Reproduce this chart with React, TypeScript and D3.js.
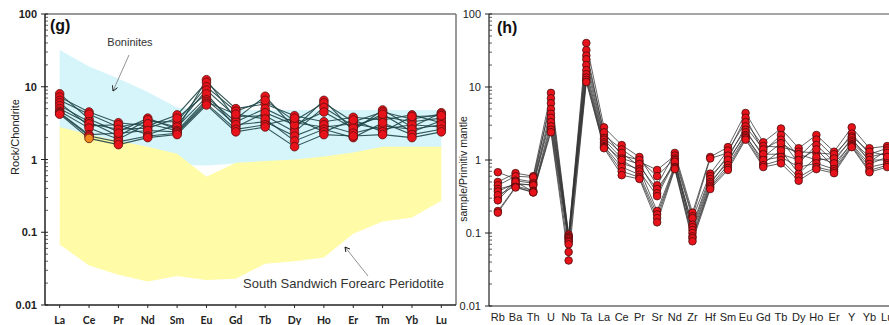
import React, { useEffect, useRef } from 'react';
import * as d3 from 'd3';

// --- REE (chondrite-normalised), panel g ---
const reeElements = ['La', 'Ce', 'Pr', 'Nd', 'Sm', 'Eu', 'Gd', 'Tb', 'Dy', 'Ho', 'Er', 'Tm', 'Yb', 'Lu'];
const reeSamples: number[][] = [
  [8.0, 3.6, 2.4, 3.7, 2.6, 12.5, 3.6, 7.4, 2.7, 6.5, 2.5, 4.8, 2.8, 4.4],
  [7.2, 4.5, 3.2, 2.9, 4.1, 11.5, 5.0, 5.8, 4.0, 3.3, 3.8, 3.5, 4.1, 3.2],
  [6.5, 4.2, 2.8, 3.3, 3.3, 10.0, 4.6, 6.5, 3.4, 6.0, 3.3, 4.5, 3.6, 4.2],
  [6.0, 2.9, 3.0, 2.2, 3.0, 9.0, 3.9, 4.0, 2.4, 5.2, 2.9, 3.9, 3.3, 3.7],
  [5.5, 3.3, 2.1, 3.5, 2.8, 7.2, 3.3, 5.0, 3.2, 2.8, 3.1, 2.6, 3.0, 2.8],
  [5.0, 3.1, 2.6, 2.7, 3.7, 8.0, 2.8, 4.4, 3.0, 4.5, 2.7, 4.2, 2.4, 3.4],
  [4.6, 2.7, 1.9, 3.1, 2.5, 6.6, 3.0, 3.3, 2.1, 3.0, 2.3, 2.9, 2.6, 3.0],
  [4.4, 2.2, 2.3, 2.5, 2.4, 6.2, 4.2, 3.6, 1.8, 2.6, 2.0, 3.2, 2.2, 2.6],
  [4.3, 2.1, 1.75, 2.1, 2.3, 5.9, 2.6, 3.0, 3.7, 2.4, 3.5, 2.4, 3.9, 4.0],
  [4.2, 1.95, 1.6, 2.0, 2.2, 5.6, 2.4, 2.8, 1.5, 2.2, 2.1, 2.2, 2.0, 2.4],
];
const orangeSample = 9;
const orangeElement = 'Ce';

// reference fields
const boniniteUpper = [32, 19, 13, 8.5, 5.2, 4.8, 4.8, 4.8, 4.8, 4.8, 4.8, 4.8, 4.8, 4.8];
const boniniteLower = [0.85, 0.85, 0.85, 0.85, 0.85, 0.83, 0.88, 0.9, 0.95, 1.0, 1.1, 1.2, 1.3, 1.4];
const peridotiteUpper = [2.8, 2.2, 1.8, 1.5, 1.2, 0.58, 0.9, 0.95, 1.0, 1.1, 1.25, 1.5, 1.5, 1.5];
const peridotiteLower = [0.068, 0.035, 0.026, 0.021, 0.025, 0.022, 0.023, 0.037, 0.04, 0.045, 0.095, 0.14, 0.16, 0.27];

// --- Primitive mantle normalised, panel h ---
const pmElements = ['Rb', 'Ba', 'Th', 'U', 'Nb', 'Ta', 'La', 'Ce', 'Pr', 'Sr', 'Nd', 'Zr', 'Hf', 'Sm', 'Eu', 'Gd', 'Tb', 'Dy', 'Ho', 'Er', 'Y', 'Yb', 'Lu'];
const pmSamples: number[][] = [
  [0.5, 0.66, 0.6, 8.3, 0.095, 40, 2.8, 1.6, 1.1, 0.45, 1.25, 0.19, 1.1, 1.5, 4.4, 1.75, 2.7, 1.45, 2.2, 1.3, 2.8, 1.45, 1.55],
  [0.68, 0.55, 0.5, 7.0, 0.09, 32, 2.2, 1.4, 0.95, 0.73, 1.15, 0.17, 1.05, 1.25, 3.8, 1.3, 2.2, 1.1, 1.9, 1.1, 2.3, 1.2, 1.45],
  [0.45, 0.6, 0.58, 6.0, 0.088, 27, 2.4, 1.15, 1.0, 0.6, 1.05, 0.16, 0.65, 1.35, 3.3, 1.55, 1.5, 1.3, 1.25, 1.2, 2.1, 1.3, 1.15],
  [0.3, 0.52, 0.48, 5.0, 0.085, 24, 2.0, 1.25, 0.82, 0.4, 0.9, 0.13, 0.6, 1.05, 2.9, 1.4, 1.9, 0.9, 1.6, 0.95, 2.0, 0.95, 1.35],
  [0.4, 0.46, 0.46, 4.3, 0.082, 20, 1.9, 1.05, 0.88, 0.35, 1.0, 0.12, 0.55, 1.15, 2.6, 1.1, 1.7, 1.2, 1.0, 1.05, 1.85, 1.1, 1.25],
  [0.37, 0.48, 0.45, 3.8, 0.078, 17, 1.75, 0.9, 0.75, 0.2, 0.85, 0.11, 0.5, 0.92, 2.4, 1.2, 1.2, 1.0, 1.4, 0.8, 1.75, 1.0, 1.0],
  [0.33, 0.44, 0.38, 3.3, 0.075, 15, 1.65, 1.0, 0.7, 0.32, 0.95, 0.1, 0.47, 1.0, 2.2, 0.9, 1.35, 0.65, 1.1, 0.9, 1.65, 0.88, 1.1],
  [0.28, 0.5, 0.37, 2.9, 0.07, 13.5, 1.55, 0.8, 0.63, 0.18, 0.8, 0.09, 0.44, 0.85, 2.1, 1.0, 1.1, 0.8, 0.9, 0.75, 1.6, 0.8, 0.9],
  [0.2, 0.43, 0.36, 2.6, 0.055, 12.5, 1.5, 0.7, 0.58, 0.16, 0.78, 0.085, 0.42, 0.78, 2.0, 0.85, 1.0, 0.58, 0.8, 0.7, 1.55, 0.72, 0.85],
  [0.19, 0.42, 0.36, 2.4, 0.042, 11.7, 1.45, 0.62, 0.55, 0.14, 0.75, 0.077, 0.4, 0.73, 1.9, 0.8, 0.9, 0.52, 0.75, 0.66, 1.5, 0.68, 0.8],
];

const yTicks = [100, 10, 1, 0.1, 0.01];
const yTickLabels = ['100', '10', '1', '0.1', '0.01'];

const App: React.FC = () => {
  const svgRef = useRef<SVGSVGElement | null>(null);

  useEffect(() => {
    if (!svgRef.current) return;
    const svg = d3.select(svgRef.current);
    svg.selectAll('*').remove();

    // log y axis: majors crossing the line, minors inside
    const drawYAxis = (g: any, y: d3.ScaleLogarithmic<number, number>, x0: number, bold: boolean, font: string) => {
      yTicks.forEach((t, i) => {
        g.append('line').attr('x1', x0 - 4).attr('x2', x0 + 3).attr('y1', y(t)).attr('y2', y(t))
          .attr('stroke', '#222').attr('stroke-width', 1);
        g.append('text').attr('x', x0 - 8).attr('y', y(t) + 4).attr('text-anchor', 'end')
          .attr('font-size', '11px').attr('font-family', font)
          .attr('font-weight', bold ? 'bold' : 'normal').attr('fill', '#222').text(yTickLabels[i]);
      });
      [0.01, 0.1, 1, 10].forEach(d => {
        d3.range(2, 10).forEach(k => {
          g.append('line').attr('x1', x0).attr('x2', x0 + 3)
            .attr('y1', y(k * d)).attr('y2', y(k * d)).attr('stroke', '#333').attr('stroke-width', 0.8);
        });
      });
    };

    const sans = 'Liberation Sans, Arial, sans-serif';
    const narrow = 'Liberation Sans Narrow, Liberation Sans, Arial, sans-serif';

    // ---------------- panel g ----------------
    const gL = svg.append('g');
    const xL = d3.scalePoint<string>().domain(reeElements).range([45, 456]).padding(0.5);
    const yL = d3.scaleLog().domain([0.01, 100]).range([305, 14]);

    gL.append('path')
      .attr('d', d3.area<number>().x((_, i) => xL(reeElements[i]) as number)
        .y0((_, i) => yL(boniniteLower[i])).y1(d => yL(d))(boniniteUpper) as string)
      .attr('fill', '#d5f5fb');
    gL.append('path')
      .attr('d', d3.area<number>().x((_, i) => xL(reeElements[i]) as number)
        .y0((_, i) => yL(peridotiteLower[i])).y1(d => yL(d))(peridotiteUpper) as string)
      .attr('fill', '#fffba6');

    // frame
    gL.append('line').attr('x1', 45).attr('x2', 456).attr('y1', 14).attr('y2', 14).attr('stroke', '#777').attr('stroke-width', 1.5);
    gL.append('line').attr('x1', 456).attr('x2', 456).attr('y1', 14).attr('y2', 305).attr('stroke', '#777').attr('stroke-width', 1.5);
    gL.append('line').attr('x1', 45).attr('x2', 456).attr('y1', 305).attr('y2', 305).attr('stroke', '#222').attr('stroke-width', 1.5);
    gL.append('line').attr('x1', 45).attr('x2', 45).attr('y1', 14).attr('y2', 305).attr('stroke', '#222').attr('stroke-width', 1.5);
    drawYAxis(gL, yL, 45, true, sans);

    reeElements.forEach(el => {
      const x = xL(el) as number;
      gL.append('line').attr('x1', x).attr('x2', x).attr('y1', 305).attr('y2', 308).attr('stroke', '#222');
      gL.append('text').attr('x', x).attr('y', 324).attr('text-anchor', 'middle')
        .attr('font-size', '10.5px').attr('font-weight', 'bold').attr('font-family', 'Lato, sans-serif')
        .attr('fill', '#222').text(el);
    });

    gL.append('text').attr('transform', 'translate(19,137) rotate(-90)').attr('text-anchor', 'middle')
      .attr('font-size', '11px').attr('font-family', sans).attr('fill', '#222')
      .text('Rock/Chondrite');

    // annotations
    const defs = svg.append('defs');
    defs.append('marker').attr('id', 'arr').attr('viewBox', '0 0 10 10').attr('refX', 9).attr('refY', 5)
      .attr('markerWidth', 7).attr('markerHeight', 7).attr('orient', 'auto-start-reverse')
      .append('path').attr('d', 'M0,0 L9,5 L0,10').attr('fill', 'none').attr('stroke', '#111').attr('stroke-width', 1.6);

    gL.append('text').attr('x', 130).attr('y', 46).attr('text-anchor', 'middle')
      .attr('font-size', '11px').attr('font-family', sans).attr('fill', '#333').text('Boninites');
    gL.append('line').attr('x1', 129).attr('y1', 55).attr('x2', 113).attr('y2', 91)
      .attr('stroke', '#777').attr('stroke-width', 0.8).attr('marker-end', 'url(#arr)');

    gL.append('text').attr('x', 243).attr('y', 288)
      .attr('font-size', '13px').attr('font-family', sans).attr('fill', '#333')
      .text('South Sandwich Forearc Peridotite');
    gL.append('line').attr('x1', 368).attr('y1', 276).attr('x2', 345).attr('y2', 247)
      .attr('stroke', '#777').attr('stroke-width', 0.8).attr('marker-end', 'url(#arr)');

    gL.append('text').attr('x', 50).attr('y', 31).attr('font-size', '16px').attr('font-weight', 'bold')
      .attr('font-family', sans).attr('fill', '#111').text('(g)');

    const lineL = d3.line<number>().x((_, i) => xL(reeElements[i]) as number).y(d => yL(d));
    reeSamples.forEach(s => {
      gL.append('path').attr('d', lineL(s) as string).attr('fill', 'none')
        .attr('stroke', '#1f4646').attr('stroke-width', 1.1).attr('opacity', 0.9);
    });
    reeSamples.forEach((s, si) => {
      s.forEach((v, i) => {
        const orange = si === orangeSample && reeElements[i] === orangeElement;
        gL.append('circle').attr('cx', xL(reeElements[i]) as number).attr('cy', yL(v)).attr('r', 4.3)
          .attr('fill', orange ? '#f08a1c' : '#e8121a').attr('stroke', '#5a1010').attr('stroke-width', 0.8);
      });
    });

    // ---------------- panel h ----------------
    const gR = svg.append('g');
    const xR = d3.scalePoint<string>().domain(pmElements).range([489, 896]).padding(0.5);
    const yR = d3.scaleLog().domain([0.01, 100]).range([306, 14]);

    gR.append('line').attr('x1', 489).attr('x2', 889).attr('y1', 14).attr('y2', 14).attr('stroke', '#888').attr('stroke-width', 1.5);
    gR.append('line').attr('x1', 489).attr('x2', 889).attr('y1', 306).attr('y2', 306).attr('stroke', '#222').attr('stroke-width', 1.2);
    gR.append('line').attr('x1', 489).attr('x2', 489).attr('y1', 14).attr('y2', 306).attr('stroke', '#222').attr('stroke-width', 1.2);
    drawYAxis(gR, yR, 489, false, narrow);

    pmElements.forEach(el => {
      const x = xR(el) as number;
      gR.append('text').attr('x', x).attr('y', 321).attr('text-anchor', 'middle')
        .attr('font-size', '11px').attr('font-family', narrow)
        .attr('fill', '#222').text(el);
    });

    gR.append('text').attr('transform', 'translate(467,169) rotate(-90)').attr('text-anchor', 'middle')
      .attr('font-size', '10.5px').attr('font-family', sans).attr('fill', '#222')
      .text('sample/Primitiv mantle');

    gR.append('text').attr('x', 497).attr('y', 33).attr('font-size', '16px').attr('font-weight', 'bold')
      .attr('font-family', sans).attr('fill', '#111').text('(h)');

    const lineR = d3.line<number>().x((_, i) => xR(pmElements[i]) as number).y(d => yR(d));
    pmSamples.forEach(s => {
      gR.append('path').attr('d', lineR(s) as string).attr('fill', 'none')
        .attr('stroke', '#333').attr('stroke-width', 0.9).attr('opacity', 0.85);
    });
    pmSamples.forEach(s => {
      s.forEach((v, i) => {
        gR.append('circle').attr('cx', xR(pmElements[i]) as number).attr('cy', yR(v)).attr('r', 3.8)
          .attr('fill', '#e8121a').attr('stroke', '#4a0c0c').attr('stroke-width', 0.8);
      });
    });
  }, []);

  return (
    <div style={{ width: 889, height: 325, overflow: 'hidden', background: '#fff' }}>
      <style>{'body{margin:0;}'}</style>
      <svg ref={svgRef} width={889} height={325} style={{ display: 'block' }}></svg>
    </div>
  );
};

export default App;
